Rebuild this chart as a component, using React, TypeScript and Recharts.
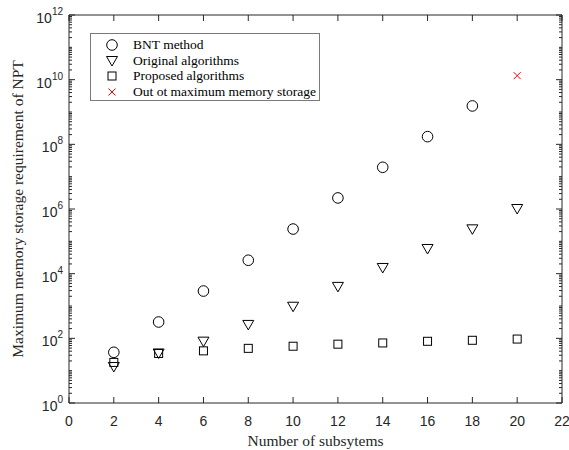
import { Legend, Scatter, ScatterChart, XAxis, YAxis } from 'recharts'

const subsystems = [2, 4, 6, 8, 10, 12, 14, 16, 18, 20]
const bntMethod = [37, 320, 2900, 26000, 240000, 2200000, 19500000, 173000000, 1540000000]
const originalAlgorithms = [13, 34, 79, 260, 950, 3900, 15000, 58000, 235000, 1000000]
const proposedAlgorithms = [18, 34, 41, 49, 57, 66, 72, 81, 87, 95]
const outOfMemoryX = [20]
const outOfMemoryY = [13300000000]

const xTicks = [0, 2, 4, 6, 8, 10, 12, 14, 16, 18, 20, 22]
const decades = [0, 1, 2, 3, 4, 5, 6, 7, 8, 9, 10, 11]
const labelledExponents = [0, 2, 4, 6, 8, 10, 12]

const yTicks: number[] = []
decades.forEach((k) => {
  for (let m = 1; m <= 9; m++) yTicks.push(m * Math.pow(10, k))
})
yTicks.push(1e12)

const toPoints = (xs: number[], ys: number[]) => ys.map((y, i) => ({ x: xs[i], y }))

const bntData = toPoints(subsystems, bntMethod)
const originalData = toPoints(subsystems, originalAlgorithms)
const proposedData = toPoints(subsystems, proposedAlgorithms)
const outData = toPoints(outOfMemoryX, outOfMemoryY)

const AXIS = '#262626'
const SERIF = '"Liberation Serif", "Times New Roman", serif'
const SANS = '"Liberation Sans", Arial, sans-serif'

const Circle = ({ cx, cy }: any) => <circle cx={cx} cy={cy} r={5.3} fill="none" stroke="#000" strokeWidth={1} />
const Triangle = ({ cx, cy }: any) => (
  <polygon
    points={`${cx - 5.5},${cy - 4.5} ${cx + 5.5},${cy - 4.5} ${cx},${cy + 5}`}
    fill="none"
    stroke="#000"
    strokeWidth={1}
  />
)
const Square = ({ cx, cy }: any) => (
  <rect x={cx - 4} y={cy - 4} width={8} height={8} fill="none" stroke="#000" strokeWidth={1} />
)
const Cross = ({ cx, cy }: any) => (
  <g stroke="#ff0000" strokeWidth={1}>
    <line x1={cx - 3.5} y1={cy - 3.5} x2={cx + 3.5} y2={cy + 3.5} />
    <line x1={cx - 3.5} y1={cy + 3.5} x2={cx + 3.5} y2={cy - 3.5} />
  </g>
)

const YTick = ({ x, y, payload, side }: any) => {
  const v = payload.value
  const exp = Math.round(Math.log10(v))
  const isPow = Math.abs(v - Math.pow(10, exp)) < v * 1e-6
  const labelled = isPow && labelledExponents.includes(exp)
  const len = labelled ? 6 : 3
  const dir = side === 'left' ? 1 : -1
  return (
    <g>
      <line x1={x} y1={y} x2={x + dir * len} y2={y} stroke={AXIS} strokeWidth={1} />
      {side === 'left' && labelled && (
        <text x={x - 6} y={y + 8} textAnchor="end" fill={AXIS} fontFamily={SANS} fontSize={14}>
          10
          <tspan dy={-8} fontSize={10}>
            {exp}
          </tspan>
        </text>
      )}
    </g>
  )
}

const XTick = ({ x, y, payload, side }: any) => {
  const dir = side === 'bottom' ? -1 : 1
  return (
    <g>
      <line x1={x} y1={y} x2={x} y2={y + dir * 6} stroke={AXIS} strokeWidth={1} />
      {side === 'bottom' && (
        <text x={x} y={y + 23} textAnchor="middle" fill={AXIS} fontFamily={SANS} fontSize={14}>
          {payload.value}
        </text>
      )}
    </g>
  )
}

const legendItems = [
  { name: 'BNT method', Shape: Circle },
  { name: 'Original algorithms', Shape: Triangle },
  { name: 'Proposed algorithms', Shape: Square },
  { name: 'Out ot maximum memory storage', Shape: Cross },
]

const LegendBox = () => (
  <div
    style={{
      border: '1px solid #7a7a7a',
      background: '#fff',
      width: 228,
      height: 66,
      boxSizing: 'content-box',
      position: 'relative',
    }}
  >
    {legendItems.map(({ name, Shape }, i) => (
      <div key={name} style={{ position: 'absolute', left: 0, top: 3 + i * 15.6, height: 16, display: 'flex', alignItems: 'center' }}>
        <svg width={42} height={16}>
          <Shape cx={21} cy={8} />
        </svg>
        <span style={{ fontFamily: SERIF, fontSize: 13.5, color: '#000', whiteSpace: 'nowrap' }}>{name}</span>
      </div>
    ))}
  </div>
)

const App = () => {
  return (
    <div style={{ position: 'absolute', left: 0, top: 0, width: 569, height: 450, background: '#fff' }}>
      <ScatterChart width={569} height={450} margin={{ top: 14, right: 6, bottom: 46, left: 68 }}>
        <XAxis
          type="number"
          dataKey="x"
          domain={[0, 22]}
          ticks={xTicks}
          interval={0}
          height={1}
          tickSize={0}
          tickMargin={0}
          allowDataOverflow
          stroke={AXIS}
          tick={(p: any) => <XTick {...p} side="bottom" />}
          label={{
            content: () => (
              <text x={315.5} y={446} textAnchor="middle" fill={AXIS} fontFamily={SERIF} fontSize={15.5}>
                Number of subsytems
              </text>
            ),
          }}
        />
        <XAxis
          xAxisId="top"
          orientation="top"
          type="number"
          dataKey="x"
          domain={[0, 22]}
          ticks={xTicks}
          interval={0}
          height={1}
          tickSize={0}
          tickMargin={0}
          allowDataOverflow
          stroke={AXIS}
          tick={(p: any) => <XTick {...p} side="top" />}
        />
        <YAxis
          type="number"
          dataKey="y"
          scale="log"
          domain={[1, 1e12]}
          ticks={yTicks}
          interval={0}
          width={1}
          tickSize={0}
          tickMargin={0}
          allowDataOverflow
          stroke={AXIS}
          tick={(p: any) => <YTick {...p} side="left" />}
          label={{
            content: () => (
              <text
                x={23}
                y={209}
                transform="rotate(-90 23 209)"
                textAnchor="middle"
                fill={AXIS}
                fontFamily={SERIF}
                fontSize={15.5}
              >
                Maximum memory storage requirement of NPT
              </text>
            ),
          }}
        />
        <YAxis
          yAxisId="right"
          orientation="right"
          type="number"
          dataKey="y"
          scale="log"
          domain={[1, 1e12]}
          ticks={yTicks}
          interval={0}
          width={1}
          tickSize={0}
          tickMargin={0}
          allowDataOverflow
          stroke={AXIS}
          tick={(p: any) => <YTick {...p} side="right" />}
        />
        <Legend
          layout="vertical"
          align="center"
          verticalAlign="middle"
          wrapperStyle={{ left: 90, top: 33, width: 230, height: 68 }}
          content={() => <LegendBox />}
        />
        <Scatter name="BNT method" data={bntData} shape={Circle} isAnimationActive={false} />
        <Scatter name="Original algorithms" data={originalData} shape={Triangle} isAnimationActive={false} />
        <Scatter name="Proposed algorithms" data={proposedData} shape={Square} isAnimationActive={false} />
        <Scatter
          name="Out ot maximum memory storage"
          data={outData}
          xAxisId="top"
          yAxisId="right"
          shape={Cross}
          isAnimationActive={false}
        />
      </ScatterChart>
    </div>
  )
}

export default App
